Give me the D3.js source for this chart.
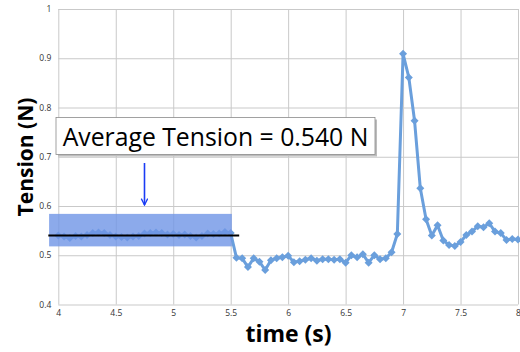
<!DOCTYPE html>
<html>
<head>
<meta charset="utf-8">
<title>Tension vs time</title>
<script src="https://d3js.org/d3.v7.min.js"></script>
<style>
  body { margin: 0; background: #fff; }
  svg { display: block; font-family: "Open Sans", sans-serif; }
</style>
</head>
<body>
<div id="chart"></div>
<script>
// data, one sample every 0.05 s from 4 s to 8 s
var times = d3.range(81).map(function (i) { return +(4 + i * 0.05).toFixed(2); });
var tension = [
  0.540, 0.538, 0.535, 0.539, 0.538, 0.541, 0.545, 0.546, 0.545, 0.541,
  0.538, 0.537, 0.536, 0.538, 0.539, 0.544, 0.545, 0.546, 0.545, 0.542,
  0.543, 0.541, 0.542, 0.539, 0.536, 0.539, 0.544, 0.543, 0.544, 0.547,
  0.545, 0.495, 0.494, 0.476, 0.494, 0.487, 0.470, 0.490, 0.494, 0.496,
  0.499, 0.486, 0.488, 0.491, 0.494, 0.489, 0.492, 0.492, 0.491, 0.492,
  0.485, 0.500, 0.496, 0.502, 0.485, 0.500, 0.492, 0.494, 0.506, 0.543,
  0.909, 0.861, 0.773, 0.636, 0.573, 0.540, 0.561, 0.530, 0.521, 0.519,
  0.527, 0.541, 0.548, 0.559, 0.557, 0.565, 0.548, 0.545, 0.531, 0.533,
  0.532
];
var xTicks = [4, 4.5, 5, 5.5, 6, 6.5, 7, 7.5, 8];
var yTicks = [0.4, 0.5, 0.6, 0.7, 0.8, 0.9, 1];
var averageTension = 0.540;
var bandLow = 0.518, bandHigh = 0.584;   // shaded range
var bandStart = 3.92, bandEnd = 5.51;
var avgLineStart = 3.913, avgLineEnd = 5.574;
var arrowAt = 4.75;
var label = 'Average Tension = 0.540 N';

var width = 520, height = 352;
var margin = {top: 9, right: 2, bottom: 47.5, left: 58.3};

var svg = d3.select('#chart').append('svg')
  .attr('width', width)
  .attr('height', height);

var x = d3.scaleLinear().domain([4, 8]).range([margin.left, width - margin.right]);
var y = d3.scaleLinear().domain([0.4, 1]).range([height - margin.bottom, margin.top]);

// grid
svg.append('g')
  .attr('transform', 'translate(0,' + y(0.4) + ')')
  .call(d3.axisBottom(x).tickValues(xTicks).tickSize(-(y(0.4) - y(1))).tickFormat(d3.format('')))
  .call(function (g) {
    g.select('.domain').remove();
    g.selectAll('.tick line').attr('stroke', '#c9c9c9').attr('stroke-width', 1);
    g.selectAll('.tick text').attr('dy', '1.05em').attr('font-size', 8.5).attr('fill', '#333')
      .attr('font-family', 'Open Sans, sans-serif');
  });

svg.append('g')
  .attr('transform', 'translate(' + x(4) + ',0)')
  .call(d3.axisLeft(y).tickValues(yTicks).tickSize(-(x(8) - x(4))).tickFormat(d3.format('')))
  .call(function (g) {
    g.select('.domain').remove();
    g.selectAll('.tick line').attr('stroke', '#c9c9c9').attr('stroke-width', 1);
    g.selectAll('.tick text').attr('x', -7).attr('font-size', 8.5).attr('fill', '#333')
      .attr('font-family', 'Open Sans, sans-serif');
  });

// data line
var line = d3.line()
  .x(function (d, i) { return x(times[i]); })
  .y(function (d) { return y(d); });

svg.append('path')
  .datum(tension)
  .attr('fill', 'none')
  .attr('stroke', '#6a9fdc')
  .attr('stroke-width', 3)
  .attr('stroke-linejoin', 'round')
  .attr('d', line);

// square markers turned 45 degrees, like excel's diamonds
svg.append('g')
  .selectAll('path')
  .data(tension)
  .enter().append('path')
    .attr('d', d3.symbol().type(d3.symbolSquare).size(32))
    .attr('transform', function (d, i) { return 'translate(' + x(times[i]) + ',' + y(d) + ') rotate(45)'; })
    .attr('fill', '#6a9fdc');

// shaded band and average line
svg.append('rect')
  .attr('x', x(bandStart))
  .attr('y', y(bandHigh))
  .attr('width', x(bandEnd) - x(bandStart))
  .attr('height', y(bandLow) - y(bandHigh))
  .attr('fill', '#6f95e6')
  .attr('fill-opacity', 0.8);

svg.append('line')
  .attr('x1', x(avgLineStart)).attr('x2', x(avgLineEnd))
  .attr('y1', y(averageTension)).attr('y2', y(averageTension))
  .attr('stroke', '#000')
  .attr('stroke-width', 2);

// arrow
svg.append('defs').append('marker')
  .attr('id', 'head')
  .attr('viewBox', '0 0 10 10')
  .attr('refX', 9).attr('refY', 5)
  .attr('markerWidth', 5).attr('markerHeight', 5)
  .attr('orient', 'auto')
  .append('path')
    .attr('d', 'M1,1 L9,5 L1,9')
    .attr('fill', 'none')
    .attr('stroke', '#1a3cf5')
    .attr('stroke-width', 1.6);

svg.append('line')
  .attr('x1', x(arrowAt)).attr('x2', x(arrowAt))
  .attr('y1', 163).attr('y2', 205)
  .attr('stroke', '#1a3cf5')
  .attr('stroke-width', 1.6)
  .attr('marker-end', 'url(#head)');

// annotation box
var box = {x: 56, y: 117.5, w: 319, h: 37};
svg.append('rect')
  .attr('x', box.x + 2).attr('y', box.y + 2)
  .attr('width', box.w).attr('height', box.h)
  .attr('fill', '#bdbdbd');
svg.append('rect')
  .attr('x', box.x).attr('y', box.y)
  .attr('width', box.w).attr('height', box.h)
  .attr('fill', '#fff')
  .attr('stroke', '#8a8a8a')
  .attr('stroke-width', 0.8);
var lbl = svg.append('text')
  .attr('x', box.x + box.w / 2)
  .attr('y', box.y + 28)
  .attr('text-anchor', 'middle')
  .attr('font-family', 'Open Sans, sans-serif')
  .attr('font-size', 26)
  .attr('fill', '#000')
  .text(label);
var w = lbl.node().getComputedTextLength();
lbl.attr('font-size', 26 * 306 / w);

// axis titles
svg.append('text')
  .attr('x', 288.5)
  .attr('y', 342)
  .attr('text-anchor', 'middle')
  .attr('font-family', 'Open Sans, sans-serif')
  .attr('font-weight', 'bold')
  .attr('font-size', 23)
  .text('time (s)');

svg.append('text')
  .attr('transform', 'translate(33,157) rotate(-90)')
  .attr('text-anchor', 'middle')
  .attr('font-family', 'Open Sans, sans-serif')
  .attr('font-weight', 'bold')
  .attr('font-size', 21)
  .text('Tension (N)');
</script>
</body>
</html>
